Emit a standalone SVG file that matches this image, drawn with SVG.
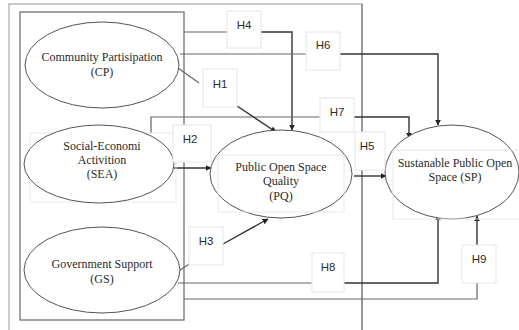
<svg xmlns="http://www.w3.org/2000/svg" width="519" height="330" viewBox="0 0 519 330">
<style>
.ell{fill:#fff;stroke:#555;stroke-width:1}
.lt{font-family:"Liberation Serif","Times New Roman",serif;font-size:12px;fill:#2a2a2a;text-anchor:middle}
.hb{fill:#fff;stroke:#e6e6e6;stroke-width:1}
.ht{font-family:"Liberation Sans",Arial,sans-serif;font-size:11.5px;fill:#2a2a2a;text-anchor:middle}
.ln{fill:none;stroke:#666;stroke-width:1.2}
.ar{fill:none;stroke:#333;stroke-width:1.4;marker-end:url(#ah)}
.bg{fill:none;stroke:#e8e8e8;stroke-width:1}
</style>
<defs>
<marker id="ah" viewBox="0 0 10 10" refX="9" refY="5" markerWidth="6" markerHeight="6" orient="auto" markerUnits="userSpaceOnUse">
<path d="M0,0 L10,5 L0,10 z" fill="#222"/>
</marker>
</defs>
<rect width="519" height="330" fill="#fff"/>
<g id="frame">
<path d="M9,332 V4 H362 V332" fill="none" stroke="#bbb" stroke-width="1.5"/>
<path d="M362,4 V332" fill="none" stroke="#666" stroke-width="1"/>
<rect x="20" y="12" width="164" height="308" fill="none" stroke="#666" stroke-width="1.2"/>
</g>
<g id="connectors">
<path class="ln" d="M184,32 H227"/>
<path class="ar" d="M261,32 H292 V130"/>
<path class="ln" d="M180,54 H306"/>
<path class="ar" d="M340,54 H438 V125"/>
<path class="ln" d="M151,133 V117 H320"/>
<path class="ar" d="M354,117 H409 V138"/>
<path class="ln" d="M178,68 L199,83"/>
<path class="ar" d="M237,106 L276,132"/>
<path class="ar" d="M174,168 H211"/>
<path class="ar" d="M354,176 H386"/>
<path class="ln" d="M180,270 L191,263"/>
<path class="ar" d="M223,244 L268,219"/>
<path class="ln" d="M178,283 H312"/>
<path class="ar" d="M344,283 H438 V215"/>
<path class="ln" d="M184,299 H477 V283"/>
<path class="ar" d="M477,245 V216"/>
</g>
<g id="CP">
<ellipse class="ell" cx="102" cy="65" rx="77" ry="43"/>
<text class="lt" x="102" y="61">Community Partisipation</text>
<text class="lt" x="102" y="76">(CP)</text>
</g>
<g id="SEA">
<rect class="bg" x="30" y="133" width="146" height="69"/>
<ellipse class="ell" cx="99" cy="164" rx="75" ry="39"/>
<text class="lt" x="102" y="150">Social-Economi</text>
<text class="lt" x="102" y="164">Activition</text>
<text class="lt" x="102" y="178">(SEA)</text>
</g>
<g id="GS">
<ellipse class="ell" cx="102" cy="270" rx="78" ry="43"/>
<text class="lt" x="102" y="268">Government Support</text>
<text class="lt" x="102" y="283">(GS)</text>
</g>
<g id="PQ">
<ellipse class="ell" cx="281" cy="174" rx="71" ry="44"/>
<rect class="bg" x="218" y="155" width="126" height="57"/>
<text class="lt" x="281" y="171">Public Open Space</text>
<text class="lt" x="281" y="185">Quality</text>
<text class="lt" x="281" y="200">(PQ)</text>
</g>
<g id="SP">
<ellipse class="ell" cx="452" cy="172" rx="67" ry="47"/>
<rect class="bg" x="393" y="150" width="128" height="69"/>
<text class="lt" x="455" y="167">Sustanable Public Open</text>
<text class="lt" x="455" y="181">Space (SP)</text>
</g>
<g id="H1"><rect class="hb" x="203" y="69" width="34" height="38"/><text class="ht" x="220" y="88">H1</text></g>
<g id="H2"><rect class="hb" x="173" y="125" width="38" height="37"/><text class="ht" x="190" y="143">H2</text></g>
<g id="H3"><rect class="hb" x="189" y="227" width="34" height="38"/><text class="ht" x="206" y="245">H3</text></g>
<g id="H4"><rect class="hb" x="227" y="11" width="34" height="37"/><text class="ht" x="244" y="29">H4</text></g>
<g id="H5"><rect class="hb" x="355" y="132" width="30" height="38"/><text class="ht" x="367" y="150">H5</text></g>
<g id="H6"><rect class="hb" x="306" y="32" width="34" height="38"/><text class="ht" x="323" y="49">H6</text></g>
<g id="H7"><rect class="hb" x="320" y="98" width="34" height="34"/><text class="ht" x="337" y="116">H7</text></g>
<g id="H8"><rect class="hb" x="312" y="253" width="32" height="39"/><text class="ht" x="328" y="271">H8</text></g>
<g id="H9"><rect class="hb" x="462" y="245" width="34" height="38"/><text class="ht" x="479" y="263">H9</text></g>
</svg>
